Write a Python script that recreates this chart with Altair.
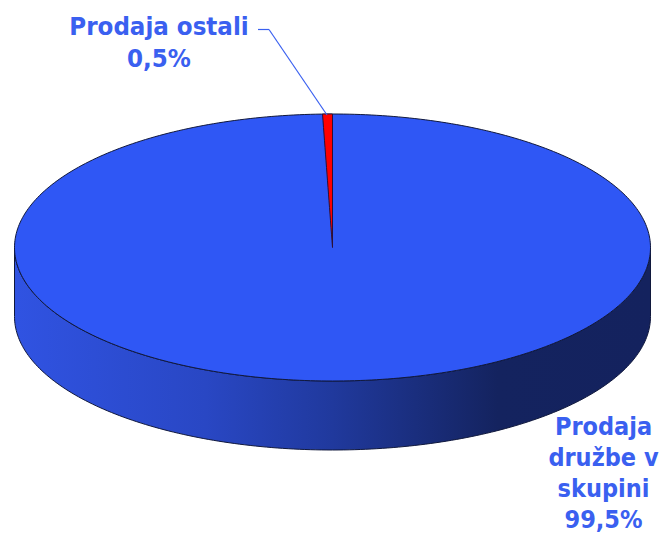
import math
import altair as alt
import pandas as pd

categories = ["Prodaja\ndružbe v\nskupini", "Prodaja ostali"]
shares = [99.5, 0.5]

CX, CY, RX, RY, DEPTH = 332.5, 247.5, 318, 133.5, 69
TOP = "#2f57f5"
TEXT = "#3a60f0"
EDGE = "#10183c"

xs = alt.Scale(domain=[8, 659])
ys = alt.Scale(domain=[534, 8])
x_enc = alt.X("x:Q", scale=xs, axis=None)
y_enc = alt.Y("y:Q", scale=ys, axis=None)
y2_enc = alt.Y2("y2:Q")

# Side wall of the cylinder: the front half of the ellipse, pushed down
side = (
    alt.Chart(alt.sequence(0, 181, 1, as_="t"))
    .transform_calculate(
        x=f"{CX} - {RX} * cos(datum.t * PI / 180)",
        y=f"{CY} + {RY} * sin(datum.t * PI / 180)",
        y2=f"{CY} + {RY} * sin(datum.t * PI / 180) + {DEPTH}",
    )
    .mark_area(
        stroke=EDGE,
        strokeWidth=1,
        color=alt.Gradient(
            gradient="linear",
            x1=0, x2=1, y1=0, y2=0,
            stops=[
                alt.GradientStop(color="#3053e2", offset=0),
                alt.GradientStop(color="#2947c4", offset=0.3),
                alt.GradientStop(color="#20399d", offset=0.5),
                alt.GradientStop(color="#14235f", offset=0.76),
                alt.GradientStop(color="#14225e", offset=1),
            ],
        ),
    )
    .encode(x=x_enc, y=y_enc, y2=y2_enc)
)

# Top face: whole ellipse, main slice colour
top = (
    alt.Chart(alt.sequence(0, 181, 1, as_="t"))
    .transform_calculate(
        x=f"{CX} - {RX} * cos(datum.t * PI / 180)",
        y=f"{CY} - {RY} * sin(datum.t * PI / 180)",
        y2=f"{CY} + {RY} * sin(datum.t * PI / 180)",
    )
    .mark_area(color=TOP, stroke=EDGE, strokeWidth=1)
    .encode(x=x_enc, y=y_enc, y2=y2_enc)
)

# Small slice: runs counter-clockwise from 12 o'clock, its angle comes from its share
theta = shares[1] / 100 * 2 * math.pi
left_x = f"({RX} * sin({theta}))"
wedge = (
    alt.Chart(alt.sequence(0, 1.01, 0.05, as_="f"))
    .transform_calculate(
        dx=f"{left_x} * (1 - datum.f)",
        x=f"{CX} - datum.dx",
        y=f"{CY} - {RY} * sqrt(1 - pow(datum.dx / {RX}, 2))",
        y2=f"{CY} - {RY} * cos({theta}) * datum.dx / {left_x}",
    )
    .mark_area(color="#ff0000", stroke="#2a1038", strokeWidth=1)
    .encode(x=x_enc, y=y_enc, y2=y2_enc)
)

leader = [
    alt.Chart(pd.DataFrame({"a": [0]}))
    .mark_rule(color=TEXT, strokeWidth=1.2)
    .encode(x=alt.value(x1 - 8), x2=alt.value(x2 - 8), y=alt.value(y1 - 8), y2=alt.value(y2 - 8))
    for x1, y1, x2, y2 in [(258, 29.5, 269, 29.5), (269, 29.5, 327, 115)]
]


def label(i, px, py, size, leading):
    text = f"{categories[i]}\n{shares[i]:.1f}%".replace(".", ",")
    return (
        alt.Chart(pd.DataFrame({"label": [text]}))
        .mark_text(
            font="DejaVu Sans Condensed",
            fontWeight="bold",
            fontSize=size,
            lineHeight=leading,
            lineBreak="\n",
            align="center",
            baseline="top",
            color=TEXT,
        )
        .encode(x=alt.value(px - 8), y=alt.value(py - 8), text="label:N")
    )


chart = (
    alt.layer(side, top, wedge, *leader, label(1, 159, 15, 25.6, 32), label(0, 603.5, 415, 25, 31))
    .properties(width=651, height=526, padding=0, autosize=alt.AutoSizeParams(type="none"))
    .configure_view(stroke=None)
)
chart.save("out.html", embed_options={"renderer": "svg", "actions": False})
